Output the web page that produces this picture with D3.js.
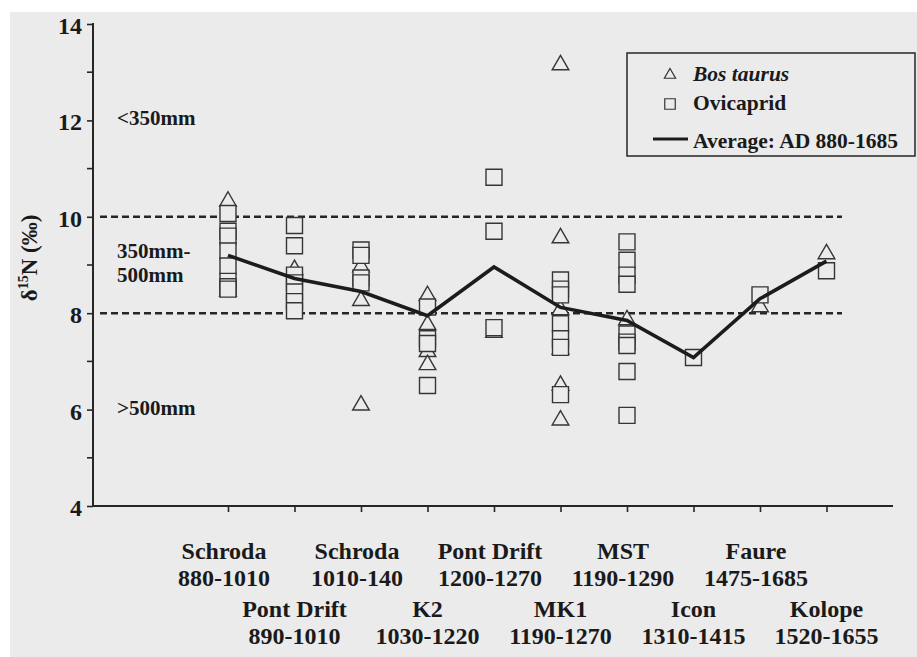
<!DOCTYPE html>
<html>
<head>
<meta charset="utf-8">
<script src="https://cdn.jsdelivr.net/npm/d3@7"></script>
<style>
  html, body { margin: 0; padding: 0; background: #ffffff; }
  svg { display: block; }
  text { font-family: "Liberation Serif", "Times New Roman", serif; font-weight: bold; fill: #1a1a1a; }
</style>
</head>
<body>
<script>
// ---------------- data ----------------
const sites = ["Schroda", "Pont Drift", "Schroda", "K2", "Pont Drift", "MK1", "MST", "Icon", "Faure", "Kolope"];
const siteDates = ["880-1010", "890-1010", "1010-140", "1030-1220", "1200-1270", "1190-1270", "1190-1290", "1310-1415", "1475-1685", "1520-1655"];
const average = [9.2, 8.72, 8.45, 7.95, 8.96, 8.12, 7.85, 7.08, 8.3, 9.08];
const bosTaurus = [
  [10.32, 8.45],
  [8.9],
  [8.96, 8.26, 6.09],
  [8.36, 7.76, 7.2, 6.93],
  [7.6],
  [13.15, 9.56, 8.07, 7.25, 6.5, 5.78],
  [7.86],
  [],
  [8.13],
  [9.23]
];
const ovicaprid = [
  [10.07, 9.7, 9.6, 9.29, 8.98, 8.66, 8.55, 8.5],
  [9.82, 9.4, 8.79, 8.63, 8.44, 8.24, 8.05],
  [9.31, 9.2, 8.73, 8.63],
  [8.13, 7.47, 7.37, 6.5],
  [10.82, 9.7, 7.7],
  [8.69, 8.5, 8.38, 7.78, 7.47, 7.29, 6.31],
  [9.48, 9.1, 8.79, 8.6, 7.57, 7.4, 7.33, 6.79, 5.88],
  [7.08],
  [8.38],
  [8.88]
];
const yTicks = [4, 6, 8, 10, 12, 14];
const yMinorTicks = [5, 7, 9, 11, 13];
const thresholds = [10, 8];
const bandLabels = [
  { lines: ["<350mm"], v: 12 },
  { lines: ["350mm-", "500mm"], v: 9 },
  { lines: [">500mm"], v: 6 }
];
const legendItems = ["Bos taurus", "Ovicaprid", "Average: AD 880-1685"];

// ---------------- layout ----------------
const W = 917, H = 657;
const paper = "#ebebeb";
const ink = "#262626";
const FONT = "'Liberation Serif', 'Times New Roman', serif";

const svg = d3.select("body").append("svg").attr("width", W).attr("height", H);
svg.append("rect").attr("x", 10).attr("y", 12).attr("width", W - 10).attr("height", H - 12).attr("fill", paper);

const x = d3.scaleLinear().domain([-2.03, 10]).range([93, 893]);
const y = d3.scaleLinear().domain([4, 14]).range([506, 24]);

// y axis
const yAxis = svg.append("g").attr("transform", `translate(${x(-2.03)},0)`);
yAxis.call(d3.axisLeft(y).tickValues(yTicks).tickSize(6).tickFormat(""));
yAxis.select(".domain").attr("stroke", ink).attr("stroke-width", 2).attr("d", `M0,${y(14) - 1}V${y(4)}`);
yAxis.selectAll(".tick line").attr("stroke", ink).attr("stroke-width", 1.6);
yAxis.selectAll(".minor").data(yMinorTicks).enter().append("line")
  .attr("x1", -6).attr("x2", 0).attr("y1", d => y(d)).attr("y2", d => y(d))
  .attr("stroke", ink).attr("stroke-width", 1.6);
svg.selectAll(".ytl").data(yTicks).enter().append("text")
  .attr("x", 82).attr("y", d => y(d) + 10).attr("text-anchor", "end")
  .style("font-family", FONT).style("font-weight", "bold").style("font-size", "24px").text(d => d);

// x axis
const xAxis = svg.append("g").attr("transform", `translate(0,${y(4)})`);
xAxis.call(d3.axisBottom(x).tickValues(d3.range(sites.length)).tickSize(6).tickFormat(""));
xAxis.select(".domain").attr("stroke", ink).attr("stroke-width", 2).attr("d", `M${x(-2.03)},0H${x(10)}`);
xAxis.selectAll(".tick line").attr("stroke", ink).attr("stroke-width", 1.6);

// x labels (two staggered rows)
sites.forEach((s, i) => {
  const row = i % 2;
  const base = row === 0 ? 559 : 617;
  const cx = x(i) + (row === 0 ? -4 : 0);
  svg.append("text").attr("x", cx).attr("y", base).attr("text-anchor", "middle")
    .style("font-size", "24px").text(s);
  svg.append("text").attr("x", cx).attr("y", base + 27).attr("text-anchor", "middle")
    .style("font-size", "24px").text(siteDates[i]);
});

// threshold dashed lines
svg.selectAll(".thr").data(thresholds).enter().append("line")
  .attr("x1", 100).attr("x2", 842).attr("y1", d => y(d)).attr("y2", d => y(d))
  .attr("stroke", ink).attr("stroke-width", 2.6).attr("stroke-dasharray", "7,4");

// band labels
bandLabels.forEach(b => {
  const t = svg.append("text").attr("x", 117).style("font-size", "21px");
  const y0 = b.lines.length === 1 ? y(b.v) + 5 : y(b.v) - 7;
  b.lines.forEach((l, k) => t.append("tspan").attr("x", 117).attr("y", y0 + k * 24).text(l));
});

// y axis title
const yt = svg.append("text").attr("transform", `translate(37,258) rotate(-90)`).attr("text-anchor", "middle").style("font-size", "23px");
yt.append("tspan").text("δ");
yt.append("tspan").style("font-size", "14px").attr("dy", -9).text("15");
yt.append("tspan").attr("dy", 9).text("N (‰)");

// markers
const triSym = d3.symbol().type(d3.symbolTriangle).size(120);
const sqSym = d3.symbol().type(d3.symbolSquare).size(256);

const triPts = bosTaurus.flatMap((vals, i) => vals.map(v => ({ i, v })));
const sqPts = ovicaprid.flatMap((vals, i) => vals.map(v => ({ i, v })));

svg.selectAll(".tri").data(triPts).enter().append("path")
  .attr("d", triSym).attr("transform", d => `translate(${x(d.i)},${y(d.v)})`)
  .attr("fill", paper).attr("stroke", "#363636").attr("stroke-width", 1.4);

svg.selectAll(".sq").data(sqPts).enter().append("path")
  .attr("d", sqSym).attr("transform", d => `translate(${x(d.i)},${y(d.v)})`)
  .attr("fill", paper).attr("stroke", "#363636").attr("stroke-width", 1.4);

// average line
svg.append("path").datum(average)
  .attr("d", d3.line().x((d, i) => x(i)).y(d => y(d)))
  .attr("fill", "none").attr("stroke", "#1c1c1c").attr("stroke-width", 3.6).attr("stroke-linejoin", "miter");

// legend
const lg = svg.append("g");
lg.append("rect").attr("x", 627).attr("y", 53).attr("width", 288).attr("height", 103)
  .attr("fill", paper).attr("stroke", ink).attr("stroke-width", 1.5);
lg.append("path").attr("d", d3.symbol().type(d3.symbolTriangle).size(55)()).attr("transform", "translate(670,75)")
  .attr("fill", "none").attr("stroke", "#333").attr("stroke-width", 1.2);
lg.append("path").attr("d", d3.symbol().type(d3.symbolSquare).size(110)()).attr("transform", "translate(670,104)")
  .attr("fill", "none").attr("stroke", "#333").attr("stroke-width", 1.2);
lg.append("line").attr("x1", 653).attr("x2", 688).attr("y1", 139).attr("y2", 139).attr("stroke", "#1c1c1c").attr("stroke-width", 3);
lg.append("text").attr("x", 693).attr("y", 81).style("font-size", "21.5px").style("font-style", "italic").text(legendItems[0]);
lg.append("text").attr("x", 693).attr("y", 110).style("font-size", "21.5px").text(legendItems[1]);
lg.append("text").attr("x", 693).attr("y", 148).style("font-size", "21.5px").text(legendItems[2]);
</script>
</body>
</html>
